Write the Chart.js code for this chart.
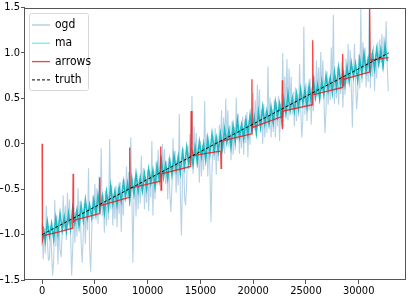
<!DOCTYPE html>
<html><head><meta charset="utf-8">
<script src="https://cdn.jsdelivr.net/npm/chart.js@4.4.1/dist/chart.umd.min.js"></script>
<style>html,body{margin:0;padding:0;background:#fff;}canvas{display:block;}</style>
</head><body>
<canvas id="c" width="409" height="300"></canvas>
<script>
// ---- data ----
const seriesNames = ['ogd', 'ma', 'arrows', 'truth'];
const xTickValues = [0, 5000, 10000, 15000, 20000, 25000, 30000];
const yTickValues = [-1.5, -1.0, -0.5, 0.0, 0.5, 1.0, 1.5];

// ogd: sampled every 100 iterations starting at 0
const ogdStep = 100;
const ogdValues = [
 -0.88,-1.27,-0.93,-1.21,-0.68,-1.08,-1.28,-1.27,-0.91,-1.20,
 -1.45,-1.28,-0.62,-1.13,-0.79,-1.33,-0.85,-1.16,-1.25,-1.01,
 -0.57,-0.96,-0.68,-1.06,-0.54,-0.89,-0.61,-0.99,-1.45,-1.16,
 -0.70,-1.09,-0.75,-1.02,-0.49,-0.90,-0.63,-1.09,-1.31,-1.01,
 -0.65,-1.10,-0.66,-0.95,-0.27,-1.15,-1.41,-0.98,-0.57,-0.83,
 -0.44,-0.78,-0.49,-0.88,-0.36,-0.70,-0.05,-0.80,-0.56,-0.98,
 -0.52,-0.90,-0.56,-0.84,0.05,-0.72,-0.45,-0.90,-0.55,-0.83,
 -0.46,-0.92,-0.48,-0.77,-0.42,-0.97,-0.49,-0.79,-0.39,-0.64,
 -0.25,-0.59,-0.31,-0.69,0.07,-0.52,-1.31,-0.62,-0.37,-0.80,
 -0.33,-0.72,-0.38,-0.66,-0.13,-0.53,-0.27,-0.72,-0.36,-0.65,
 -0.28,-0.74,-0.30,-0.59,0.03,-0.79,-0.30,-0.61,-0.20,-0.46,
 -0.07,-0.41,-0.13,-0.51,0.00,-0.34,-0.06,-0.44,-0.19,-0.61,
 -0.15,-0.54,-0.75,-0.48,0.06,-0.35,-0.08,-0.54,-0.18,-0.46,
 0.33,-0.55,-1.01,-0.40,-0.05,-0.60,-0.68,-0.43,-0.02,-0.28,
 0.11,-0.23,0.53,-0.33,0.19,-0.15,0.12,-0.26,-0.01,-0.43,
 0.03,-0.36,-0.01,-0.29,0.47,-0.17,0.10,-0.36,0.00,-0.28,
 -0.86,-0.30,0.09,-0.18,0.17,-0.34,0.08,-0.19,0.21,-0.07,
 0.37,-0.03,0.29,-0.11,0.50,0.04,0.37,-0.04,0.20,-0.18,
 0.25,-0.12,0.19,-0.07,0.51,0.04,0.33,-0.11,0.20,-0.05,
 0.30,-0.12,0.27,0.01,0.35,-0.15,0.26,-0.01,0.39,0.11,
 0.56,0.15,0.48,0.08,0.65,0.22,0.60,0.14,0.38,0.00,
 0.44,0.07,0.37,0.12,0.85,0.22,0.51,0.07,0.38,0.13,
 0.48,0.07,0.46,0.19,0.53,0.03,0.44,0.17,1.00,0.29,
 0.74,0.34,0.93,0.26,0.83,0.40,0.74,0.32,0.57,0.19,
 0.62,0.25,0.55,0.30,0.88,0.40,0.07,0.25,1.29,0.32,
 0.67,0.25,0.64,0.37,0.72,0.21,0.62,0.36,0.75,0.48,
 0.92,0.52,0.84,0.44,1.01,0.58,0.92,0.51,0.12,0.37,
 0.80,0.43,0.73,0.48,1.06,0.59,1.42,0.44,0.75,0.50,
 0.85,0.43,0.82,0.55,0.90,0.40,0.81,0.54,0.94,0.66,
 1.10,0.70,1.03,0.62,0.18,0.77,1.10,0.69,0.38,0.55,
 0.98,0.61,1.49,0.67,1.12,0.77,1.06,0.62,0.93,0.68,
 1.50,0.61,1.00,0.74,1.08,0.58,0.99,0.72,1.12,0.84,
 1.15,0.89,1.21,0.81,1.18,0.95,1.35,0.87,0.58
];

// ma: sampled every 200 iterations starting at 100
const maStart = 100, maStep = 200;
const maValues = [
 -0.91,-1.07,-0.86,-1.02,-0.88,-1.05,-0.82,-0.99,-0.77,-0.95,
 -0.81,-0.96,-0.77,-0.93,-0.71,-0.87,-0.73,-0.91,-0.68,-0.84,
 -0.62,-0.81,-0.67,-0.81,-0.62,-0.78,-0.57,-0.73,-0.58,-0.76,
 -0.53,-0.70,-0.47,-0.66,-0.52,-0.67,-0.48,-0.63,-0.42,-0.58,
 -0.44,-0.62,-0.38,-0.55,-0.33,-0.52,-0.37,-0.52,-0.33,-0.49,
 -0.28,-0.43,-0.29,-0.47,-0.24,-0.40,-0.18,-0.37,-0.23,-0.38,
 -0.18,-0.34,-0.13,-0.29,-0.14,-0.32,-0.09,-0.26,-0.04,-0.22,
 -0.08,-0.23,-0.04,-0.20,0.02,-0.14,0.00,-0.18,0.06,-0.11,
 0.11,-0.08,0.07,-0.08,0.11,-0.05,0.16,0.01,0.15,-0.03,
 0.20,0.03,0.26,0.07,0.21,0.06,0.26,0.10,0.31,0.15,
 0.29,0.12,0.35,0.18,0.40,0.22,0.36,0.21,0.40,0.24,
 0.46,0.30,0.44,0.26,0.49,0.33,0.55,0.36,0.50,0.36,
 0.55,0.39,0.60,0.44,0.59,0.41,0.64,0.47,0.70,0.51,
 0.65,0.50,0.69,0.54,0.75,0.59,0.73,0.56,0.79,0.62,
 0.84,0.65,0.80,0.65,0.84,0.68,0.89,0.74,0.88,0.70,
 0.93,0.77,0.99,0.80,0.94,0.79,0.99,0.83,1.04,0.88,
 1.03,0.85,1.08,0.91
];

// arrows: piecewise path (iteration, value)
const arrowX = [0,30,150,1600,2900, 2940,2980,3100,5420, 5460,5500,8260, 8300,8340,11200,
  11240,11270,11330,14080, 14120,14200,14300,16920, 16960,17000,19840, 19880,19920,22730,
  22770,22790,22830,25600, 25640,25680,28440, 28480,28520,28560,31000, 31040,31080,32840];
const arrowY = [0.00,-1.07,-1.01,-0.97,-0.93, -0.33,-0.86,-0.84,-0.77, -0.37,-0.68,-0.59, -0.04,-0.49,-0.41,
  -0.03,-0.51,-0.33,-0.25, 0.36,-0.05,-0.13,-0.08, -0.27,0.03,0.11, 0.71,0.18,0.30,
  0.70,0.16,0.36,0.43, 1.14,0.54,0.62, 0.99,0.64,0.71,0.79, 1.49,0.92,0.95];

// truth: straight line
const truthX = [0, 32840];
const truthY = [-1.0, 1.0];

// ---- chart ----
const FONT = '"Liberation Sans Narrow", "DejaVu Sans Condensed", "DejaVu Sans", sans-serif';
Chart.defaults.font.family = FONT;
Chart.defaults.color = '#000';

const pts = (xs, ys) => ys.map((y, i) => ({x: xs[i], y}));
const ogdX = ogdValues.map((_, i) => i * ogdStep);
const maX = maValues.map((_, i) => maStart + i * maStep);

const frame = {
  id: 'frame',
  afterDatasetsDraw(chart) {
    const {ctx, chartArea: a} = chart;
    ctx.save();
    ctx.strokeStyle = '#555';
    ctx.lineWidth = 1;
    ctx.strokeRect(Math.round(a.left) - 0.5, Math.round(a.top) + 0.5, Math.round(a.right - a.left), Math.round(a.bottom - a.top) - 1);
    ctx.restore();
  }
};

const mplLegend = {
  id: 'mplLegend',
  afterDraw(chart) {
    const ctx = chart.ctx;
    ctx.save();
    const x0 = 29.5, y0 = 13.5, w = 59, h = 77, r = 2;
    ctx.beginPath();
    ctx.moveTo(x0 + r, y0);
    ctx.arcTo(x0 + w, y0, x0 + w, y0 + h, r);
    ctx.arcTo(x0 + w, y0 + h, x0, y0 + h, r);
    ctx.arcTo(x0, y0 + h, x0, y0, r);
    ctx.arcTo(x0, y0, x0 + w, y0, r);
    ctx.closePath();
    ctx.fillStyle = 'rgba(255,255,255,0.8)';
    ctx.fill();
    ctx.strokeStyle = '#d8d8d8';
    ctx.lineWidth = 1;
    ctx.stroke();
    chart.data.datasets.forEach((ds, i) => {
      const y = 25 + i * 18.3;
      ctx.beginPath();
      ctx.strokeStyle = ds.legendColor || ds.borderColor;
      ctx.lineWidth = ds.legendWidth || ds.borderWidth;
      ctx.setLineDash(ds.borderDash || []);
      ctx.moveTo(32, y);
      ctx.lineTo(50, y);
      ctx.stroke();
      ctx.setLineDash([]);
      ctx.fillStyle = '#000';
      ctx.font = '12px ' + FONT;
      ctx.textBaseline = 'middle';
      ctx.fillText(ds.label, 55, y);
    });
    ctx.restore();
  }
};

const fmt = v => {
  const s = Math.abs(v) < 1e-9 ? '0.0' : Math.abs(v).toFixed(1);
  return (v < -1e-9 ? '\u2212' : '') + s;
};

new Chart(document.getElementById('c'), {
  type: 'scatter',
  data: {
    datasets: [
      {label: seriesNames[0], data: pts(ogdX, ogdValues), showLine: true, borderColor: 'rgba(31,119,180,0.33)', legendWidth: 1.5, borderWidth: 1.1, pointRadius: 0, order: 4},
      {label: seriesNames[1], data: pts(maX, maValues), showLine: true, borderColor: 'rgba(0,180,186,0.85)', legendColor: 'rgba(0,210,210,0.45)', legendWidth: 1.5, borderWidth: 1.6, pointRadius: 0, order: 3},
      {label: seriesNames[2], data: pts(arrowX, arrowY), showLine: true, borderColor: 'rgba(240,20,20,0.8)', borderWidth: 1.3, pointRadius: 0, order: 2},
      {label: seriesNames[3], data: pts(truthX, truthY), showLine: true, borderColor: '#000', borderWidth: 1, borderDash: [3, 2], pointRadius: 0, order: 1}
    ]
  },
  options: {
    responsive: false,
    animation: false,
    devicePixelRatio: 1,
    layout: {padding: {top: 6, right: 3, left: 0, bottom: 0}},
    plugins: {legend: {display: false}, tooltip: {enabled: false}},
    elements: {line: {tension: 0}},
    scales: {
      x: {
        type: 'linear', min: -1620, max: 34480,
        afterBuildTicks: s => { s.ticks = xTickValues.map(v => ({value: v})); },
        afterFit: s => { s.height = 20; },
        grid: {display: true, drawOnChartArea: false, drawTicks: true, tickLength: 4, color: '#555'},
        border: {display: false},
        ticks: {font: {size: 11}, padding: 1, maxRotation: 0, autoSkip: false, callback: v => String(v)}
      },
      y: {
        type: 'linear', min: -1.5, max: 1.5,
        afterBuildTicks: s => { s.ticks = yTickValues.map(v => ({value: v})); },
        afterFit: s => { s.width = 25; },
        grid: {display: true, drawOnChartArea: false, drawTicks: true, tickLength: 4, color: '#555'},
        border: {display: false},
        ticks: {font: {size: 11}, padding: 1, autoSkip: false, callback: v => fmt(v)}
      }
    }
  },
  plugins: [frame, mplLegend]
});
</script>
</body></html>
